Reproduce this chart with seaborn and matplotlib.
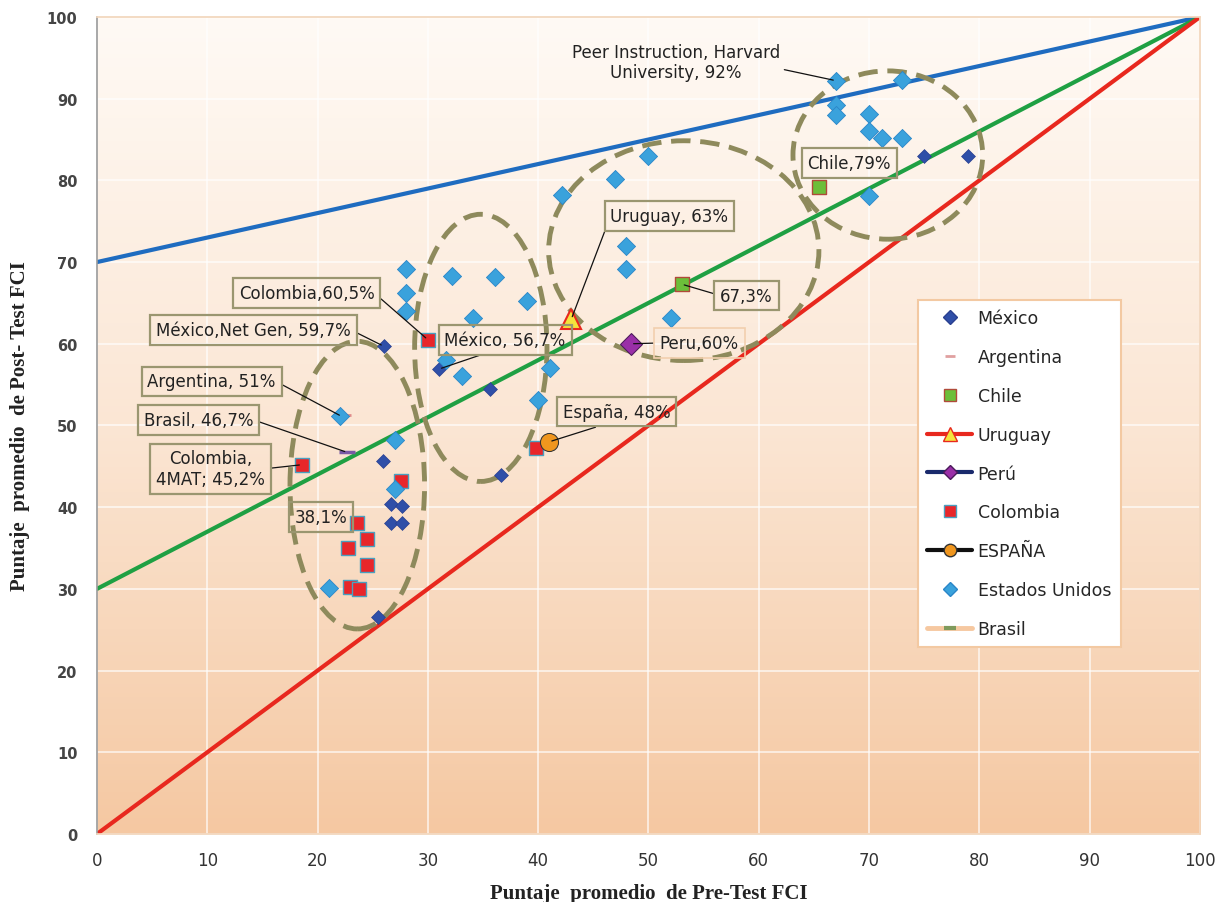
import numpy as np
import pandas as pd
import matplotlib
matplotlib.use("Agg")
import matplotlib.pyplot as plt
from matplotlib.colors import LinearSegmentedColormap
from matplotlib.patches import Ellipse
from matplotlib.lines import Line2D
import seaborn as sns

# ---------------- data ----------------
mexico_x = [26, 31, 35.6, 36.6, 25.9, 26.7, 27.7, 26.7, 27.7, 25.5, 75, 79]
mexico_y = [59.7, 56.9, 54.5, 43.9, 45.7, 40.4, 40.1, 38.1, 38.1, 26.6, 83, 83]

usa_x = [67, 73, 67, 67, 70, 70, 71.2, 73, 70, 50, 47, 42.2, 48, 48, 52,
         28, 28, 28, 32.2, 36.1, 39, 34.1, 31.6, 33.1, 41.1, 40, 22, 27, 27, 21]
usa_y = [92.2, 92.3, 89.2, 88, 88.1, 86, 85.2, 85.2, 78.1, 83, 80.2, 78.2, 72, 69.1, 63.2,
         69.2, 66.2, 64, 68.3, 68.2, 65.2, 63.2, 58, 56.1, 57, 53.1, 51.1, 48.2, 42.2, 30.1]

colombia_x = [30, 18.6, 27.6, 23.6, 24.5, 22.8, 24.5, 22.9, 23.8, 39.8]
colombia_y = [60.5, 45.2, 43.2, 38.1, 36.1, 35, 32.9, 30.2, 30, 47.2]

chile_x, chile_y = [65.5, 53], [79.2, 67.3]
uruguay_x, uruguay_y = [43], [63]
peru_x, peru_y = [48.4], [60]
espana_x, espana_y = [41], [48]
argentina_x, argentina_y = [22.6], [51.3]
brasil_x, brasil_y = [22.7], [46.7]

# gain reference lines: post = pre + g * (100 - pre)
gains = [0.7, 0.3, 0.0]
gain_colors = ["#1f6cc0", "#1fa043", "#e8281e"]

# annotations: text, point, text position, box kind, leader start (relpos) or None
notes = [
    ("Peer Instruction, Harvard\nUniversity, 92%", (67, 92.2), (52.5, 94.5), None, (1.02, 0.3)),
    ("Chile,79%", (65.5, 79.2), (68.2, 82.1), "box", None),
    ("Uruguay, 63%", (43, 63), (51.9, 75.6), "box", (0, 0.5)),
    ("67,3%", (53, 67.3), (58.9, 65.9), "box", (0, 0.5)),
    ("Colombia,60,5%", (30, 60.5), (19.0, 66.2), "box", (1, 0.5)),
    ("México,Net Gen, 59,7%", (26, 59.7), (14.2, 61.7), "box", (1, 0.5)),
    ("México, 56,7%", (31, 56.9), (37.0, 60.5), "box", (0.45, 0)),
    ("Peru,60%", (48.4, 60), (54.6, 60.1), "light", (0, 0.5)),
    ("Argentina, 51%", (22.2, 51.1), (10.4, 55.4), "box", (1, 0.5)),
    ("Brasil, 46,7%", (22.7, 46.7), (9.2, 50.7), "box", (1, 0.5)),
    ("Colombia,\n4MAT; 45,2%", (18.6, 45.2), (10.3, 44.7), "box", (1, 0.5)),
    ("38,1%", (23.6, 38.1), (20.3, 38.8), "box", None),
    ("España, 48%", (41, 48), (47.1, 51.7), "box", (0.5, 0)),
]

# dashed grouping ellipses: center, width, height
groups = [((23.6, 42.7), 12.2, 35.2), ((34.8, 59.5), 12.0, 32.7),
          ((53.2, 71.4), 24.5, 26.9), ((71.7, 83.1), 17.2, 20.6)]

# ---------------- figure ----------------
sns.set_theme(style="white")
plt.rcParams["font.family"] = ["DejaVu Sans"]

fig = plt.figure(figsize=(12.21, 9.03), dpi=100)
ax = fig.add_axes([0.0794, 0.0753, 0.9034, 0.9048])

bg = LinearSegmentedColormap.from_list("bg", ["#fffaf5", "#fbe6d4", "#f5c8a2"])
ax.imshow(np.linspace(0, 1, 256).reshape(-1, 1), extent=[0, 100, 0, 100],
          aspect="auto", cmap=bg, origin="upper", zorder=0)

ax.grid(True, color="white", lw=1.1, alpha=0.8, zorder=0.5)

pre = np.array([0, 100])
for g, c in zip(gains, gain_colors):
    sns.lineplot(x=pre, y=pre + g * (100 - pre), color=c, lw=3, ax=ax,
                 legend=False, zorder=2)

for (cx, cy), w, h in groups:
    ax.add_patch(Ellipse((cx, cy), w, h, fill=False, ec="#8e8a5c", lw=3.5,
                         ls=(0, (4, 2)), zorder=3))

handles = {}
sns.scatterplot(x=mexico_x, y=mexico_y, marker="D", s=50, color="#2f4fa8",
                edgecolor="#2a4090", linewidth=0.5, ax=ax, zorder=4)
handles["México"] = Line2D([], [], ls="", marker="D", ms=7, mfc="#2f4fa8", mec="#2a4090")

sns.scatterplot(x=argentina_x, y=argentina_y, marker="_", s=50, color="#e08c8c",
                linewidth=2, ax=ax, zorder=4)
handles["Argentina"] = Line2D([], [], ls="", marker="_", ms=7, mew=2, color="#e0a0a0")

sns.scatterplot(x=chile_x, y=chile_y, marker="s", s=90, color="#6cbf3a",
                edgecolor="#b04a3a", linewidth=1, ax=ax, zorder=4)
handles["Chile"] = Line2D([], [], ls="", marker="s", ms=8, mfc="#6cbf3a", mec="#b04a3a")

sns.scatterplot(x=colombia_x, y=colombia_y, marker="s", s=95, color="#e8262a",
                edgecolor="#4aa0c0", linewidth=1, ax=ax, zorder=4)
handles["Colombia"] = Line2D([], [], ls="", marker="s", ms=8, mfc="#e8262a", mec="#4aa0c0")

sns.scatterplot(x=usa_x, y=usa_y, marker="D", s=85, color="#3aa2dc",
                edgecolor="#2a86c8", linewidth=0.6, ax=ax, zorder=5)
handles["Estados Unidos"] = Line2D([], [], ls="", marker="D", ms=7, mfc="#3aa2dc", mec="#2a86c8")

sns.lineplot(x=uruguay_x, y=uruguay_y, color="#e8281e", lw=3, marker="^", ms=14,
             markerfacecolor="#f4e43c", markeredgecolor="#e8281e", markeredgewidth=1.5,
             ax=ax, legend=False, zorder=6)
handles["Uruguay"] = Line2D([], [], color="#e8281e", lw=3, marker="^", ms=10,
                            mfc="#f4e43c", mec="#e8281e")

sns.lineplot(x=peru_x, y=peru_y, color="#1a2a6c", lw=3, marker="D", ms=11,
             markerfacecolor="#9a2fa8", markeredgecolor="#4a1a5a", ax=ax,
             legend=False, zorder=6)
handles["Perú"] = Line2D([], [], color="#1a2a6c", lw=3, marker="D", ms=7,
                         mfc="#9a2fa8", mec="#4a1a5a")

sns.lineplot(x=espana_x, y=espana_y, color="black", lw=3, marker="o", ms=13,
             markerfacecolor="#f0961e", markeredgecolor="#333333", ax=ax,
             legend=False, zorder=6)
handles["ESPAÑA"] = Line2D([], [], color="#111111", lw=3, marker="o", ms=9,
                           mfc="#f0961e", mec="#333333")

sns.lineplot(x=brasil_x, y=brasil_y, color="#f6c8a0", lw=3, marker="_", ms=12,
             markeredgecolor="#7a5aa6", markeredgewidth=2.5, ax=ax,
             legend=False, zorder=6)
handles["Brasil"] = Line2D([], [], color="#f6c8a0", lw=3.5, marker="_", ms=9,
                           mec="#7f9a5c", mew=3)

for txt, xy, xyt, kind, rel in notes:
    bbox = None
    if kind == "box":
        bbox = dict(boxstyle="square,pad=0.35", fc="none", ec="#9a9670", lw=1.6)
    elif kind == "light":
        bbox = dict(boxstyle="square,pad=0.35", fc="none", ec="#f2cfae", lw=1.2)
    arrow = None
    if rel is not None:
        arrow = dict(arrowstyle="-", color="#111111", lw=0.9, shrinkA=0,
                     shrinkB=2, relpos=rel)
    ax.annotate(txt, xy=xy, xytext=xyt, ha="center", va="center", fontsize=12,
                color="#222222", bbox=bbox, zorder=7, arrowprops=arrow)

order = ["México", "Argentina", "Chile", "Uruguay", "Perú", "Colombia",
         "ESPAÑA", "Estados Unidos", "Brasil"]
leg = ax.legend([handles[k] for k in order], order, loc="upper left",
                bbox_to_anchor=(0.744, 0.654), borderaxespad=0, fontsize=12.5,
                frameon=True, fancybox=False, edgecolor="#f3c9a2",
                facecolor="white", framealpha=1, labelspacing=1.2,
                handlelength=2.6, borderpad=0.55, handletextpad=0.3)
leg.get_frame().set_linewidth(1.5)
leg.set_zorder(10)

ax.set_xlim(0, 100)
ax.set_ylim(0, 100)
ax.set_xticks(range(0, 101, 10))
ax.set_yticks(range(0, 101, 10))
ax.tick_params(axis="both", length=0)
ax.tick_params(axis="y", pad=14, labelsize=10.5, labelcolor="#444444")
ax.tick_params(axis="x", pad=12, labelsize=12, labelcolor="#333333")
for lab in ax.get_yticklabels():
    lab.set_fontweight("bold")
for lab in ax.get_xticklabels():
    lab.set_family(["Liberation Sans Narrow", "DejaVu Sans"])

ax.set_xlabel("Puntaje  promedio  de Pre-Test FCI", family="Liberation Serif",
              fontsize=15, fontweight="bold", color="#222222", labelpad=10)
ax.set_ylabel("Puntaje  promedio  de Post- Test FCI", family="Liberation Serif",
              fontsize=15, fontweight="bold", color="#222222", labelpad=12)

for side, sp in ax.spines.items():
    sp.set_color("#f2d6bc")
ax.spines["left"].set_color("#9a9a9a")
ax.spines["left"].set_linewidth(1.2)

fig.savefig("out.png", dpi=100)
